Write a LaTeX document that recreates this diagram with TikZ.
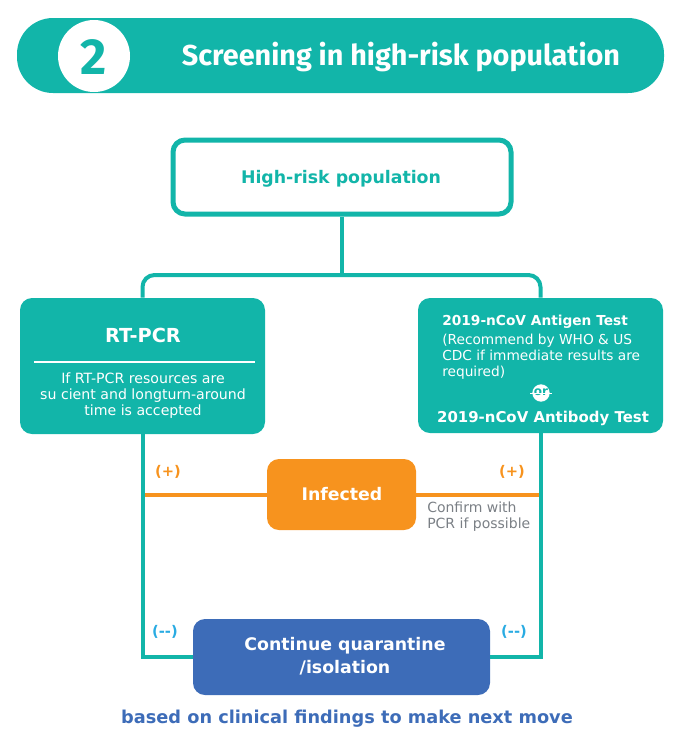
\documentclass[tikz,border=0pt]{standalone}
\usepackage{fontspec}
\setmainfont{DejaVu Sans}
\newfontfamily\titlefont{Fira Sans}
\usetikzlibrary{fit}
\definecolor{tealc}{HTML}{12B5A9}
\definecolor{orangec}{HTML}{F7931E}
\definecolor{bluec}{HTML}{3D6CB8}
\definecolor{lbluec}{HTML}{29ABE2}
\definecolor{grayc}{HTML}{7A7F85}
\tikzset{
  box/.style={inner sep=0pt, rounded corners=9pt},
  conn/.style={draw=tealc, line width=3pt},
  oline/.style={draw=orangec, line width=3pt},
  wtext/.style={text=white, font=\bfseries, align=center, inner sep=0pt},
}
\begin{document}
\begin{tikzpicture}[x=0.75pt,y=-0.75pt]
\useasboundingbox (0,0) rectangle (683,744);
% header
\node[fit={(17,18)(664,93)}, inner sep=0pt, fill=tealc, rounded corners=27pt] (banner) {};
\node[circle, fill=white, minimum size=54pt, inner sep=0pt] (num) at (94,56) {};
\node[text=tealc, font=\titlefont\bfseries\fontsize{38}{38}\selectfont, inner sep=0pt] (numtxt) at (94,57) {2};
\node[text=white, font=\titlefont\bfseries\fontsize{21.6}{22}\selectfont, inner sep=0pt] (title) at (401,57) {Screening in high-risk population};
% high-risk box
\node[fit={(173,140)(511,214)}, box, draw=tealc, line width=3.75pt, fill=white] (hr) {};
\node[text=tealc, font=\bfseries\fontsize{13}{15}\selectfont, inner sep=0pt] (hrtxt) at (341,179) {High-risk population};
% boxes
\node[fit={(20,298)(265,434)}, box, fill=tealc] (rt) {};
\node[fit={(418,298)(663,433)}, box, fill=tealc] (ag) {};
\coordinate (j) at (342,275);
\draw[conn] (hr.south) -- (j);
\draw[conn, rounded corners=9pt] (rt.north) |- (j) -| (ag.north);
% RT-PCR content
\node[wtext, font=\bfseries\fontsize{14.5}{16}\selectfont] (rttitle) at (143,335) {RT-PCR};
\coordinate (rl1) at (34,362);
\coordinate (rl2) at (255,362);
\draw[white, line width=2pt] (rl1) -- (rl2);
\node[text=white, align=center, font=\fontsize{10.6}{12}\selectfont, inner sep=0pt] (rtsub) at (143,396) {If RT-PCR resources are\\su cient and longturn-around\\time is accepted};
% Antigen content
\node[wtext, font=\bfseries\fontsize{10.3}{12}\selectfont, anchor=west] (agt) at (442,322) {2019-nCoV Antigen Test};
\node[text=white, align=left, anchor=north west, font=\fontsize{10.3}{12}\selectfont, inner sep=0pt] (agsub) at (442,334) {(Recommend by WHO \& US\\CDC if immediate results are\\required)};
\node[circle, fill=white, minimum size=13pt, inner sep=0pt] (orc) at (541,393) {};
\node[text=tealc, font=\bfseries\fontsize{9}{9}\selectfont, inner sep=0pt] (ortxt) at (541,392) {or};
\coordinate (o1) at (530,393.5);
\coordinate (o2) at (552,393.5);
\draw[white, line width=0.8pt] (o1) -- (o2);
\node[wtext, font=\bfseries\fontsize{11.2}{13}\selectfont] (abt) at (543,418) {2019-nCoV Antibody Test};
% infected
\node[fit={(267,459)(416,530)}, box, fill=orangec] (inf) {};
\coordinate (ol) at (143,494.5);
\coordinate (orr) at (541,494.5);
\draw[oline] (ol) -- (inf.west);
\draw[oline] (inf.east) -- (orr);
\node[wtext, font=\bfseries\fontsize{13}{15}\selectfont] (inftxt) at (342,494) {Infected};
\node[text=orangec, font=\bfseries\fontsize{11}{13}\selectfont, inner sep=0pt] (p1) at (168,472) {(+)};
\node[text=orangec, font=\bfseries\fontsize{11}{13}\selectfont, inner sep=0pt] (p2) at (512,472) {(+)};
\node[text=grayc, align=left, anchor=north west, font=\fontsize{10.5}{12}\selectfont, inner sep=0pt] (conf) at (427,502) {Confirm with\\PCR if possible};
% continue quarantine
\node[fit={(193,619)(490,695)}, box, fill=bluec] (cq) {};
\draw[conn] (rt.south) |- (cq.west);
\draw[conn] (ag.south) |- (cq.east);
\node[wtext, font=\bfseries\fontsize{13}{17}\selectfont] (cqtxt) at (345,656) {Continue quarantine\\/isolation};
\node[text=lbluec, font=\bfseries\fontsize{11}{13}\selectfont, inner sep=0pt] (m1) at (165,632) {(-{}-)};
\node[text=lbluec, font=\bfseries\fontsize{11}{13}\selectfont, inner sep=0pt] (m2) at (514,632) {(-{}-)};
\node[text=bluec, font=\bfseries\fontsize{13.3}{15}\selectfont, inner sep=0pt] (foot) at (347,719) {based on clinical findings to make next move};
\end{tikzpicture}
\end{document}
